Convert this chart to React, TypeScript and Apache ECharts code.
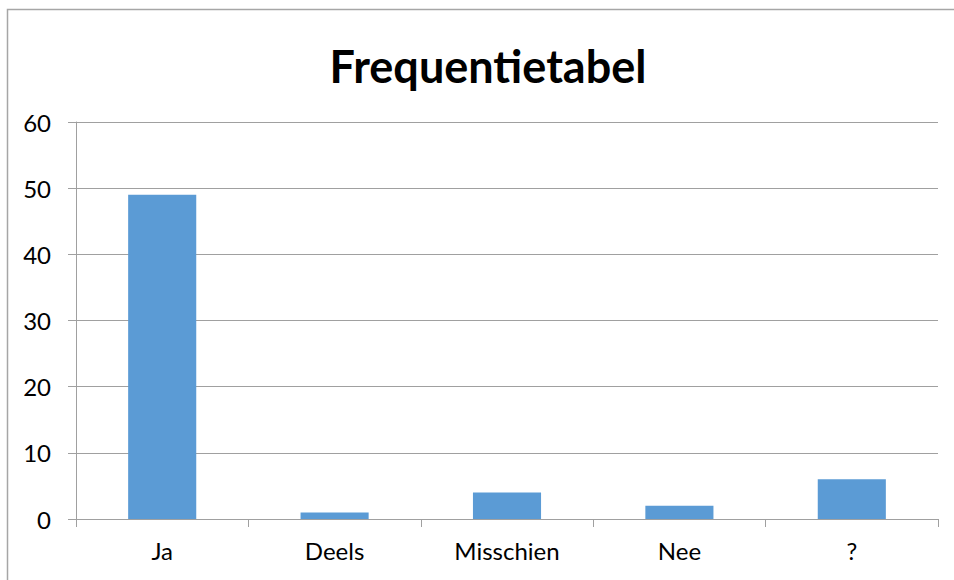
import React, { useEffect, useRef } from "react";
import * as echarts from "echarts";

const categories = ["Ja", "Deels", "Misschien", "Nee", "?"];
const values = [49, 1, 4, 2, 6];
const titleText = "Frequentietabel";

export default function App() {
  const ref = useRef<HTMLDivElement>(null);
  useEffect(() => {
    document.body.style.margin = "0";
    const chart = echarts.init(ref.current!, null, { renderer: "svg" });
    chart.setOption({
      animation: false,
      backgroundColor: "#ffffff",
      textStyle: { fontFamily: "Lato, 'Open Sans', sans-serif" },
      graphic: [
        {
          type: "rect",
          shape: { x: 7.5, y: 9.5, width: 1000, height: 700 },
          style: { fill: "none", stroke: "#a6a6a6", lineWidth: 1.5 },
          silent: true,
        },
        {
          type: "text",
          x: 488,
          y: 66,
          style: {
            text: titleText,
            fontSize: 45,
            fontWeight: "bold",
            fontFamily: "Lato, 'Open Sans', sans-serif",
            fill: "#000000",
            align: "center",
            verticalAlign: "middle",
          },
        },
      ],
      grid: { left: 76, right: 16, top: 122, bottom: 61, containLabel: false },
      xAxis: {
        type: "category",
        data: categories,
        axisLine: { show: true, lineStyle: { color: "#a0a0a0", width: 1 } },
        axisTick: { show: true, length: 8, lineStyle: { color: "#a0a0a0" } },
        axisLabel: { color: "#000", fontSize: 24, margin: 19 },
      },
      yAxis: {
        type: "value",
        min: 0,
        max: 60,
        interval: 10,
        axisLine: { show: true, lineStyle: { color: "#a0a0a0", width: 1 } },
        axisTick: { show: true, length: 8, lineStyle: { color: "#a0a0a0" } },
        axisLabel: { color: "#000", fontSize: 24, margin: 25 },
        splitLine: { show: true, lineStyle: { color: "#a0a0a0", width: 1 } },
      },
      series: [
        {
          type: "bar",
          data: values,
          barWidth: "39.5%",
          itemStyle: { color: "#5b9bd5" },
        },
      ],
    });
    return () => chart.dispose();
  }, []);
  return (
    <div
      ref={ref}
      style={{ position: "absolute", left: 0, top: 0, width: 954, height: 580 }}
    />
  );
}
